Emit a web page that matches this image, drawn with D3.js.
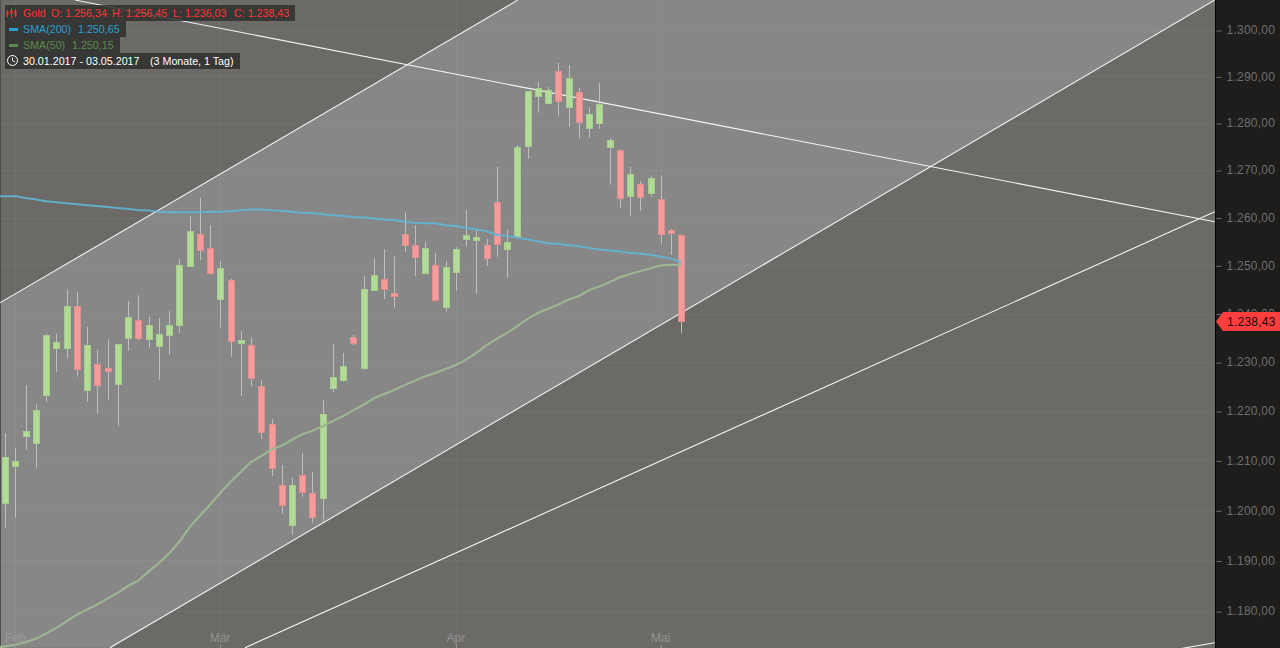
<!DOCTYPE html>
<html><head><meta charset="utf-8">
<script src="https://cdnjs.cloudflare.com/ajax/libs/d3/7.8.5/d3.min.js"></script>
<style>html,body{margin:0;padding:0;background:#1e1d1b;overflow:hidden}svg{display:block}text{font-family:"Liberation Sans",Arial,sans-serif}</style>
</head><body><svg id="c" width="1280" height="648"></svg>
<script>
const dates=["30.01","31.01","01.02","02.02","03.02","06.02","07.02","08.02","09.02","10.02","13.02","14.02","15.02","16.02","17.02","20.02","21.02","22.02","23.02","24.02","27.02","28.02","01.03","02.03","03.03","06.03","07.03","08.03","09.03","10.03","13.03","14.03","15.03","16.03","17.03","20.03","21.03","22.03","23.03","24.03","27.03","28.03","29.03","30.03","31.03","03.04","04.04","05.04","06.04","07.04","10.04","11.04","12.04","13.04","14.04","17.04","18.04","19.04","20.04","21.04","24.04","25.04","26.04","27.04","28.04","01.05","02.05","03.05"];
const opens=[1205,1201.5,1208.8,1215,1213.6,1223.3,1232.8,1232.8,1241.6,1224.2,1229.6,1228.8,1225.6,1235,1238.7,1234.8,1233.4,1235.6,1237.7,1249.9,1256.5,1253.6,1243,1247,1234,1233.5,1225.1,1217.3,1205.1,1197.1,1207,1203.4,1202.5,1224.8,1226.4,1235.1,1228.8,1244.9,1247.2,1244.3,1256.5,1254.2,1248.5,1250.1,1241.4,1248.7,1255.5,1255.3,1254.2,1263.2,1253.5,1255.9,1275.2,1285.8,1284.3,1291.1,1283.5,1286.6,1279,1280.1,1275,1274.3,1264.6,1267.1,1265.2,1263.8,1257.3,1256.34];
const highs=[1212,1215.5,1212.5,1225.3,1221.4,1235.8,1235.8,1244.9,1244.5,1237.2,1232.5,1234.7,1233.8,1242.6,1243.8,1239.3,1239.1,1240.5,1251.3,1260.3,1264.1,1258.4,1250.9,1247.2,1236.4,1235,1226.3,1218.4,1209.1,1206.5,1211.5,1207.7,1222.3,1233.7,1231.9,1235.6,1247.8,1251.5,1253.4,1251.9,1261.1,1258.4,1254.9,1252.6,1250.9,1253.8,1261.6,1257.4,1255.5,1270.7,1257.4,1275.3,1286.9,1288.8,1287.7,1292.9,1292.4,1287.5,1283.4,1288.6,1276.8,1274.3,1270.7,1267.7,1268.8,1268.8,1257.6,1256.45];
const lows=[1198,1196.5,1198.5,1212.2,1208.4,1221.9,1228,1230.8,1227,1221.9,1219.5,1222.3,1217,1232.3,1234.5,1233,1226.4,1231.5,1236,1249.7,1251.1,1248,1237.1,1231.1,1223.1,1225.1,1214.4,1206.9,1199.3,1195.1,1202.7,1197.5,1197.7,1223.8,1226,1233.5,1228.4,1244.9,1243,1241.2,1252.8,1247.8,1248.5,1242.7,1240.4,1244.7,1254,1244.1,1249.9,1251.8,1247.4,1255.9,1272.4,1282.2,1284.3,1281.6,1279.2,1276.7,1276.9,1278.8,1266.9,1261.9,1260.4,1261.4,1264.4,1254.5,1252.2,1236.03];
const closes=[1201,1210.7,1209.9,1216,1220.2,1235.6,1234.1,1241.6,1228.5,1233.5,1225.4,1228.2,1233.7,1239.3,1235,1237.6,1235.8,1237.6,1250.1,1257.2,1253.1,1248.5,1249.4,1234.4,1234.5,1226.8,1215.8,1208.4,1201.1,1205.1,1203.7,1198.7,1219.4,1226.9,1229.1,1233.9,1245.1,1248,1245.1,1243.7,1254.3,1251.8,1253.6,1242.7,1249.6,1253.4,1256.3,1255.9,1251.6,1254.5,1254.9,1274.9,1286.9,1287.6,1287,1284.8,1289.6,1280.3,1281.9,1284.1,1276.4,1264,1269.2,1264.4,1268.3,1256.6,1256.8,1238.43];
const sma200=[1264.5,1264.5,1264.5,1264.1,1263.8,1263.4,1263.2,1263,1262.8,1262.6,1262.4,1262.2,1262,1261.8,1261.6,1261.5,1261.2,1261.1,1261.1,1261.1,1261.1,1261.2,1261.2,1261.3,1261.5,1261.7,1261.7,1261.5,1261.4,1261.2,1261,1260.9,1260.7,1260.5,1260.3,1260.1,1260,1259.8,1259.6,1259.5,1259.1,1258.9,1258.8,1258.8,1258.4,1258.2,1257.8,1257.5,1257.1,1256.4,1256.1,1255.8,1255.4,1255,1254.6,1254.5,1254.2,1254,1253.6,1253.3,1253.1,1252.9,1252.6,1252.4,1252.2,1251.8,1251.4,1250.65];
const sma50=[1172.8,1173.1,1173.4,1173.9,1174.6,1175.6,1176.7,1178,1179.3,1180.3,1181.3,1182.5,1183.6,1185,1186,1187.8,1189.5,1191.4,1193.7,1196.6,1198.9,1201.1,1203.5,1205.7,1207.7,1209.7,1210.9,1212.2,1213,1214.2,1215.3,1216,1216.9,1218,1219,1220.2,1221.3,1222.6,1223.5,1224.3,1225.3,1226.2,1227.1,1227.8,1228.6,1229.4,1230.5,1231.9,1233.5,1234.8,1236,1237.4,1238.9,1240.1,1241,1241.8,1242.9,1243.6,1244.8,1245.6,1246.5,1247.5,1248.2,1248.8,1249.4,1250,1250.1,1250.15];
const priceTicks=[1300,1290,1280,1270,1260,1250,1240,1230,1220,1210,1200,1190,1180];
const monthLabels=["Feb","Mär","Apr","Mai"];
const monthDates=["01.02","01.03","03.04","01.05"];
// trend lines as [candle position, price]; position 0 is the first listed date
const channelTop=[[0.48,1242.2],[51.04,1306.5]];
const channelBottom=[[11.22,1172.8],[119.08,1306.5]];
const parallelLow=[[24.4,1172.8],[119.08,1261.2]];
const falling=[[7.8,1306.5],[119.08,1259.1]];
const fallingLow=[[115.66,1172.6],[119.08,1173.8]];
const lastClose=1238.43;

const svg=d3.select("#c");
const plotW=1215,H=648;
const step=10.243, x0=5.2-step;
const x=d3.scaleLinear().domain([0,dates.length-1]).range([x0,x0+step*(dates.length-1)]);
const y=d3.scaleLog().domain([1180,1300]).range([611.1,30]);
const nf=d3.formatLocale({decimal:",",thousands:".",grouping:[3],currency:["","€"]}).format(",.2f");
const snap=v=>Math.round(v);

svg.append("rect").attr("width",1280).attr("height",648).attr("fill","#1e1d1b");
const defs=svg.append("defs");
defs.append("clipPath").attr("id","plot").append("rect").attr("width",plotW).attr("height",H);
const g=svg.append("g").attr("clip-path","url(#plot)");
g.append("rect").attr("width",plotW).attr("height",H).attr("fill","#6b6a67");
// channel fill
const ch=[channelTop[0],channelTop[1],channelBottom[1],channelBottom[0],[-1,1172.8],[-1,channelTop[0][1]]];
g.append("path").attr("d",d3.line().x(d=>x(d[0])).y(d=>y(d[1]))(ch)).attr("fill","#878787");
g.append("rect").attr("x",0).attr("y",0).attr("width",1).attr("height",H).attr("fill","#4f4e4c");
// grid
g.selectAll(".gy").data(priceTicks).join("line").attr("x1",0).attr("x2",plotW).attr("y1",d=>snap(y(d))+.5).attr("y2",d=>snap(y(d))+.5).attr("stroke","#fff").attr("stroke-opacity",.045);
g.selectAll(".gx").data(monthDates).join("line").attr("y1",0).attr("y2",H).attr("x1",d=>snap(x(dates.indexOf(d)))+.5).attr("x2",d=>snap(x(dates.indexOf(d)))+.5).attr("stroke","#fff").attr("stroke-opacity",.045);
// trend lines
[channelTop,channelBottom,parallelLow,falling,fallingLow].forEach(l=>{
  g.append("line").attr("x1",x(l[0][0])).attr("y1",y(l[0][1])).attr("x2",x(l[1][0])).attr("y2",y(l[1][1])).attr("stroke","#f4f4f4").attr("stroke-width",1.1);
});
// candles
const idx=d3.range(dates.length);
const up=i=>closes[i]>=opens[i];
const cg=g.append("g").attr("opacity",.92);
cg.selectAll(".w").data(idx).join("line").attr("x1",i=>snap(x(i))+.5).attr("x2",i=>snap(x(i))+.5).attr("y1",i=>y(highs[i])).attr("y2",i=>y(lows[i])).attr("stroke","#c4c4c4").attr("stroke-width",1);
cg.selectAll(".b").data(idx).join("rect")
 .attr("x",i=>snap(x(i))-3+.5).attr("width",6)
 .attr("y",i=>Math.round(y(Math.max(opens[i],closes[i])))+.5)
 .attr("height",i=>Math.max(2,Math.round(y(Math.min(opens[i],closes[i])))-Math.round(y(Math.max(opens[i],closes[i])))))
 .attr("fill",i=>up(i)?"#b5e398":"#ff9d9d").attr("stroke",i=>up(i)?"#a9d48f":"#ee8d8d").attr("stroke-width",1);
// SMA
const ln=d3.line().x((d,i)=>x(i)).y(d=>y(d));
g.append("path").attr("d",ln(sma50)).attr("fill","none").attr("stroke","#9cb593").attr("stroke-width",2.2);
g.append("path").attr("d",ln(sma200)).attr("fill","none").attr("stroke","#62b4d3").attr("stroke-width",2).attr("stroke-opacity",.92);
// x labels
monthLabels.forEach((m,k)=>{
  const xx=x(dates.indexOf(monthDates[k]));
  g.append("text").attr("x",xx).attr("y",642).attr("text-anchor","middle").attr("font-size",12).attr("fill","#a2a2a2").attr("fill-opacity",.75).text(m);
  g.append("line").attr("x1",snap(xx)+.5).attr("x2",snap(xx)+.5).attr("y1",645).attr("y2",648).attr("stroke","#999");
});
// right axis
const ax=svg.append("g").attr("transform","translate(1216.5,0)").call(d3.axisRight(y).tickValues(priceTicks).tickFormat(nf).tickSize(5).tickPadding(5));
ax.select(".domain").remove();
ax.selectAll("line").attr("stroke","#6f6f6f").attr("transform","translate(0,.5)");
ax.selectAll("text").attr("fill","#6f6f6f").attr("font-size",12).attr("font-family","Liberation Sans").attr("letter-spacing",".25px");
svg.append("line").attr("x1",1215.5).attr("x2",1215.5).attr("y1",0).attr("y2",H).attr("stroke","#000");
// last price tag
const ty=y(lastClose);
svg.append("path").attr("d",d3.line()([[1216,ty+.5],[1223,ty-9],[1280,ty-9],[1280,ty+10],[1223,ty+10]])+"Z").attr("fill","#ff3f3f");
svg.append("text").attr("x",1227).attr("y",ty+5).attr("font-size",12).attr("letter-spacing",".25px").attr("fill","#1a0808").text(nf(lastClose));
// legend
const rows=[{w:290,c:"#ff3333"},{w:121,c:"#2b9fd0"},{w:115,c:"#5c8a4c"},{w:235,c:"#ffffff"}];
const lg=svg.append("g");
rows.forEach((r,i)=>lg.append("rect").attr("x",5).attr("y",5+16*i).attr("width",r.w).attr("height",16).attr("fill","#2e2e2e").attr("fill-opacity",.85));
const txt=(t,xx,yy,c)=>lg.append("text").attr("x",xx).attr("y",yy).attr("font-size",10.7).attr("fill",c).text(t);
const last=dates.length-1;
txt("Gold",23,17,rows[0].c);
[["O:",opens[last]],["H:",highs[last]],["L:",lows[last]],["C:",closes[last]]].forEach((p,i)=>txt(p[0]+" "+nf(p[1]),[51,112,173,234][i],17,rows[0].c));
txt("SMA(200)",23,33,rows[1].c);txt(nf(sma200[last]),78,33,rows[1].c);
txt("SMA(50)",23,49,rows[2].c);txt(nf(sma50[last]),72,49,rows[2].c);
txt("30.01.2017 - 03.05.2017",23,65,rows[3].c);txt("(3 Monate, 1 Tag)",150,65,rows[3].c);
lg.append("rect").attr("x",9).attr("y",28).attr("width",9).attr("height",3).attr("fill","#2b9fd0");
lg.append("rect").attr("x",9).attr("y",44).attr("width",9).attr("height",3).attr("fill","#5c8a4c");
lg.append("circle").attr("cx",12.5).attr("cy",60.5).attr("r",5).attr("fill","none").attr("stroke","#fff").attr("stroke-width",1);
lg.append("path").attr("d","M12.5 57.5V60.5L15 62").attr("fill","none").attr("stroke","#fff");
[[7.5,10,17,12,15],[11.5,8,18,10,14],[15.5,9,17,11,16]].forEach(a=>{
  lg.append("line").attr("x1",a[0]).attr("x2",a[0]).attr("y1",a[1]).attr("y2",a[2]).attr("stroke","#ff3333");
  lg.append("rect").attr("x",a[0]-1).attr("y",a[3]).attr("width",2).attr("height",a[4]-a[3]).attr("fill","#ff3333");
});
</script></body></html>
